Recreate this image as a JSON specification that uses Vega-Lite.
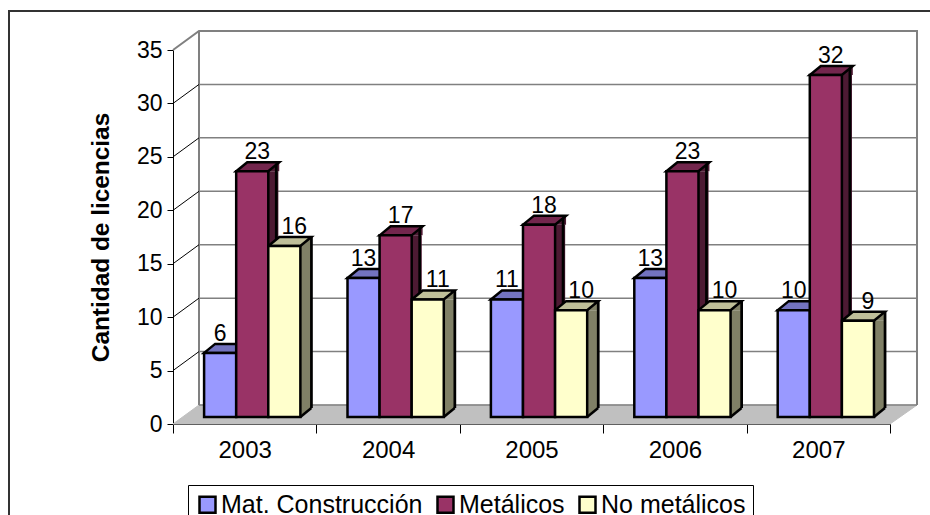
{
"$schema":"https://vega.github.io/schema/vega-lite/v6.json",
"width":930,"height":520,
"autosize":"none",
"padding":{"left":9,"top":11,"right":0,"bottom":0},
"background":"white",
"view":{"stroke":"#333333","strokeWidth":2,"fill":"white"},
"config":{"font":"Liberation Sans","point":{"opacity":1},"text":{"font":"Liberation Sans"},
"axisX":{"labelFontSize":24,"labelColor":"#000000","labelAngle":0,"domainColor":"#000000","domainWidth":1,"tickColor":"#000000","tickWidth":1,"tickSize":9,"tickBand":"extent","labelPadding":5,"offset":-107,"grid":false},
"axisY":{"titleFontSize":24.4,"titleFontWeight":"bold","titleColor":"#000000","labelFontSize":23,"labelColor":"#000000","domainColor":"#000000","domainWidth":1,"tickColor":"#000000","tickWidth":1,"tickSize":6,"tickCount":8,"labelPadding":5,"titlePadding":23,"offset":-164,"grid":false}
},
"datasets":{
"bars":[
{"year":"2003","serie":"Mat. Construcción","value":6},{"year":"2003","serie":"Metálicos","value":23},{"year":"2003","serie":"No metálicos","value":16},
{"year":"2004","serie":"Mat. Construcción","value":13},{"year":"2004","serie":"Metálicos","value":17},{"year":"2004","serie":"No metálicos","value":11},
{"year":"2005","serie":"Mat. Construcción","value":11},{"year":"2005","serie":"Metálicos","value":18},{"year":"2005","serie":"No metálicos","value":10},
{"year":"2006","serie":"Mat. Construcción","value":13},{"year":"2006","serie":"Metálicos","value":23},{"year":"2006","serie":"No metálicos","value":10},
{"year":"2007","serie":"Mat. Construcción","value":10},{"year":"2007","serie":"Metálicos","value":32},{"year":"2007","serie":"No metálicos","value":9}
],
"ticks":[{"value":0,"year":"2003"},{"value":5,"year":"2003"},{"value":10,"year":"2003"},{"value":15,"year":"2003"},{"value":20,"year":"2003"},{"value":25,"year":"2003"},{"value":30,"year":"2003"},{"value":35,"year":"2003"}]
},
"resolve":{"scale":{"color":"independent","fill":"independent","xOffset":"independent"}},
"encoding":{
"x":{"field":"year","type":"ordinal","title":null,"scale":{"type":"band","domain":["2003","2004","2005","2006","2007"],"range":[164,881],"paddingInner":0,"paddingOuter":0}},
"y":{"field":"value","type":"quantitative","title":"Cantidad de licencias","scale":{"domain":[0,35],"range":[413,39],"nice":false,"zero":true}}
},
"layer":[
{"data":{"name":"ticks"},"transform":[{"filter":"datum.value==0"}],
 "mark":{"type":"point","shape":"M0 0 L26 -19 L744 -19 L717 0 Z","size":4,"filled":true,"fill":"#C0C0C0","stroke":"#C0C0C0","strokeWidth":1},
 "encoding":{"x":{"field":"year","type":"ordinal","title":null,"bandPosition":0}}},
{"data":{"name":"ticks"},
 "mark":{"type":"point","shape":"M26 -19 L744 -19","size":4,"filled":false,"stroke":"#808080","strokeWidth":1.5},
 "encoding":{"x":{"field":"year","type":"ordinal","title":null,"bandPosition":0}}},
{"data":{"name":"ticks"},"transform":[{"filter":"datum.value==35"}],
 "mark":{"type":"point","shape":"M0 0 L26 -19 L744 -19 L744 355 M26 -19 L26 355","size":4,"filled":false,"stroke":"#808080","strokeWidth":2},
 "encoding":{"x":{"field":"year","type":"ordinal","title":null,"bandPosition":0}}},
{"data":{"name":"ticks"},"transform":[{"filter":"datum.value>0 && datum.value<35"}],
 "mark":{"type":"point","shape":"M0 0 L26 -19","size":4,"filled":false,"stroke":"#000000","strokeWidth":1},
 "encoding":{"x":{"field":"year","type":"ordinal","title":null,"bandPosition":0}}},

{"data":{"name":"bars"},
 "mark":{"type":"bar","yOffset":-7,"y2Offset":-16,"strokeWidth":0},
 "encoding":{
 "xOffset":{"field":"serie","type":"nominal","scale":{"type":"band","domain":["Mat. Construcción","Metálicos","No metálicos"],"paddingInner":0.657,"paddingOuter":1.062,"align":0.924}},
 "y2":{"datum":0},
 "color":{"field":"serie","type":"nominal","legend":null,"scale":{"domain":["Mat. Construcción","Metálicos","No metálicos"],"range":["#4D4D80","#4D1A33","#808066"]}}}},
{"data":{"name":"bars"},
 "mark":{"type":"point","shape":"M16 0 L27 -9 L27 0 Z","size":4,"filled":true,"yOffset":-7,"strokeWidth":0},
 "encoding":{
 "xOffset":{"field":"serie","type":"nominal","scale":{"type":"band","domain":["Mat. Construcción","Metálicos","No metálicos"],"paddingInner":0,"paddingOuter":0.734,"align":0.66}},
 "color":{"field":"serie","type":"nominal","legend":null,"scale":{"domain":["Mat. Construcción","Metálicos","No metálicos"],"range":["#4D4D80","#4D1A33","#808066"]}}}},
{"data":{"name":"bars"},
 "mark":{"type":"point","shape":"M16 0 L16 -9 L27 -9 Z","size":4,"filled":true,"yOffset":-7,"strokeWidth":0},
 "encoding":{
 "xOffset":{"field":"serie","type":"nominal","scale":{"type":"band","domain":["Mat. Construcción","Metálicos","No metálicos"],"paddingInner":0,"paddingOuter":0.734,"align":0.66}},
 "y":{"datum":0,"type":"quantitative","title":"Cantidad de licencias"},
 "color":{"field":"serie","type":"nominal","legend":null,"scale":{"domain":["Mat. Construcción","Metálicos","No metálicos"],"range":["#4D4D80","#4D1A33","#808066"]}}}},
{"data":{"name":"bars"},
 "mark":{"type":"point","shape":"M16 0 L27 -9","size":4,"filled":false,"yOffset":-7,"stroke":"#000000","strokeWidth":2.5},
 "encoding":{
 "xOffset":{"field":"serie","type":"nominal","scale":{"type":"band","domain":["Mat. Construcción","Metálicos","No metálicos"],"paddingInner":0,"paddingOuter":0.734,"align":0.66}},
 "y":{"datum":0,"type":"quantitative","title":"Cantidad de licencias"}}},
{"data":{"name":"bars"},
 "mark":{"type":"bar","yOffset":-16,"y2Offset":-16,"color":"#000000"},
 "encoding":{
 "xOffset":{"field":"serie","type":"nominal","scale":{"type":"band","domain":["Mat. Construcción","Metálicos","No metálicos"],"paddingInner":0.922,"paddingOuter":1.1945,"align":0.949}},
 "y2":{"datum":0}}},
{"data":{"name":"bars"},
 "mark":{"type":"point","shape":"M-16 0 L-5 -9 L27 -9 L16 0 Z","size":4,"filled":true,"yOffset":-7,"stroke":"#000000","strokeWidth":2.5},
 "encoding":{
 "xOffset":{"field":"serie","type":"nominal","scale":{"type":"band","domain":["Mat. Construcción","Metálicos","No metálicos"],"paddingInner":0,"paddingOuter":0.734,"align":0.66}},
 "fill":{"field":"serie","type":"nominal","legend":null,"scale":{"domain":["Mat. Construcción","Metálicos","No metálicos"],"range":["#7373BF","#73264D","#BFBF99"]}}}},
{"data":{"name":"bars"},
 "mark":{"type":"bar","yOffset":-7,"y2Offset":-7,"stroke":"#000000","strokeWidth":2.5},
 "encoding":{
 "xOffset":{"field":"serie","type":"nominal","scale":{"type":"band","domain":["Mat. Construcción","Metálicos","No metálicos"],"paddingInner":0,"paddingOuter":0.734,"align":0.66}},
 "y2":{"datum":0},
 "fill":{"field":"serie","type":"nominal","scale":{"domain":["Mat. Construcción","Metálicos","No metálicos"],"range":["#9999FF","#993366","#FFFFCC"]},
  "legend":{"orient":"none","legendX":179,"legendY":474,"direction":"horizontal","title":null,"labelFontSize":25,"labelColor":"#000000","symbolType":"square","symbolSize":256,"symbolStrokeColor":"#000000","symbolStrokeWidth":2.5,"strokeColor":"#000000","fillColor":"#FFFFFF","padding":7,"columnPadding":9,"labelOffset":1,"labelLimit":400}}}},
{"data":{"name":"bars"},"transform":[{"filter":"datum.serie=='Mat. Construcción'"}],
 "mark":{"type":"text","fontSize":23,"color":"#000000","yOffset":-7,"dy":-12,"baseline":"alphabetic","align":"center","dx":0},
 "encoding":{
 "xOffset":{"field":"serie","type":"nominal","scale":{"type":"band","domain":["Mat. Construcción","Metálicos","No metálicos"],"paddingInner":0,"paddingOuter":0.734,"align":0.66}},
 "text":{"field":"value","type":"quantitative"}}},
{"data":{"name":"bars"},"transform":[{"filter":"datum.serie=='Metálicos'"}],
 "mark":{"type":"text","fontSize":23,"color":"#000000","yOffset":-7,"dy":-12,"baseline":"alphabetic","align":"center","dx":5},
 "encoding":{
 "xOffset":{"field":"serie","type":"nominal","scale":{"type":"band","domain":["Mat. Construcción","Metálicos","No metálicos"],"paddingInner":0,"paddingOuter":0.734,"align":0.66}},
 "text":{"field":"value","type":"quantitative"}}},
{"data":{"name":"bars"},"transform":[{"filter":"datum.serie=='No metálicos'"}],
 "mark":{"type":"text","fontSize":23,"color":"#000000","yOffset":-7,"dy":-12,"baseline":"alphabetic","align":"center","dx":10},
 "encoding":{
 "xOffset":{"field":"serie","type":"nominal","scale":{"type":"band","domain":["Mat. Construcción","Metálicos","No metálicos"],"paddingInner":0,"paddingOuter":0.734,"align":0.66}},
 "text":{"field":"value","type":"quantitative"}}}
]
}
